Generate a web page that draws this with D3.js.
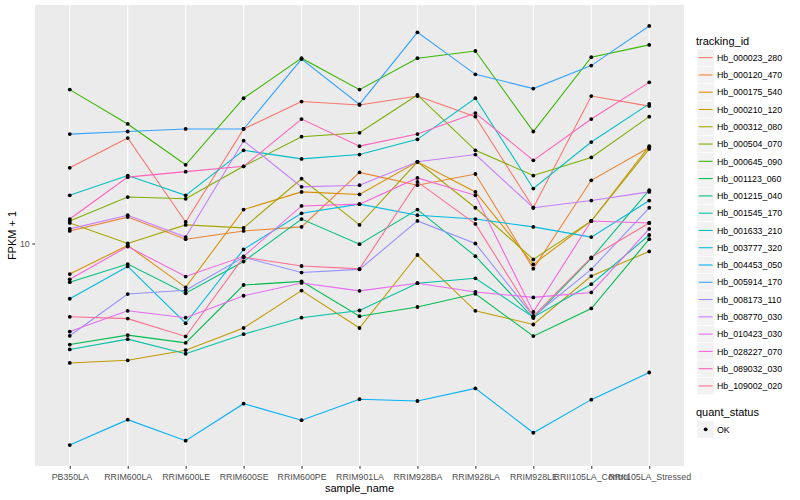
<!DOCTYPE html>
<html>
<head>
<meta charset="utf-8">
<script src="https://cdn.jsdelivr.net/npm/d3@7"></script>
<style>
  body { margin: 0; background: #fff; }
  text { font-family: "Liberation Sans", Arial, sans-serif; }
</style>
</head>
<body>
<div id="chart"></div>
<script>
// sample names along the x axis
const sampleNames = ["PB350LA", "RRIM600LA", "RRIM600LE", "RRIM600SE", "RRIM600PE", "RRIM901LA",
    "RRIM928BA", "RRIM928LA", "RRIM928LE", "RRII105LA_Control", "RRII105LA_Stressed"];

const trackingIds = ["Hb_000023_280", "Hb_000120_470", "Hb_000175_540", "Hb_000210_120", "Hb_000312_080",
    "Hb_000504_070", "Hb_000645_090", "Hb_001123_060", "Hb_001215_040", "Hb_001545_170",
    "Hb_001633_210", "Hb_003777_320", "Hb_004453_050", "Hb_005914_170", "Hb_008173_110",
    "Hb_008770_030", "Hb_010423_030", "Hb_028227_070", "Hb_089032_030", "Hb_109002_020"];

// FPKM + 1 for each gene, one value per sample
const hb_000023_280 = [14.2, 16.3, 11.05, 17.0, 19.3, 19.0, 19.8, 18.0, 11.8, 19.8, 18.9];
const hb_000120_470 = [10.6, 11.3, 10.2, 10.6, 10.8, 13.9, 13.1, 13.8, 8.9, 13.4, 15.6];
const hb_000175_540 = [8.68, 9.91, 8.16, 11.7, 12.7, 12.55, 14.6, 12.7, 9.08, 11.1, 15.7];
const hb_000210_120 = [5.75, 5.82, 6.10, 6.76, 8.04, 6.76, 9.48, 7.32, 6.87, 8.60, 9.64];
const hb_000312_080 = [11.0, 10.0, 10.9, 10.75, 13.5, 10.9, 14.6, 11.8, 9.29, 11.1, 15.5];
const hb_000504_070 = [11.1, 12.4, 12.3, 14.3, 16.4, 16.7, 19.9, 15.4, 13.7, 14.9, 18.0];
const hb_000645_090 = [20.4, 17.4, 14.4, 19.6, 23.6, 20.4, 23.6, 24.4, 16.8, 23.7, 25.1];
const hb_001123_060 = [6.26, 6.54, 6.31, 8.25, 8.39, 7.14, 7.45, 7.92, 6.51, 7.40, 10.2];
const hb_001215_040 = [8.36, 9.09, 7.94, 9.20, 11.2, 9.97, 11.7, 9.43, 7.08, 9.33, 12.8];
const hb_001545_170 = [6.12, 6.42, 6.00, 6.57, 7.09, 7.33, 8.32, 8.51, 7.11, 8.28, 10.4];
const hb_001633_210 = [12.5, 13.7, 12.5, 15.4, 14.8, 15.1, 16.2, 19.6, 12.9, 16.0, 19.1];
const hb_003777_320 = [7.74, 8.99, 6.91, 9.73, 11.5, 12.0, 11.4, 11.2, 10.8, 10.3, 12.2];
const hb_004453_050 = [3.93, 4.42, 4.01, 4.76, 4.41, 4.86, 4.82, 5.11, 4.16, 4.85, 5.50];
const hb_005914_170 = [16.6, 16.8, 17.0, 17.0, 23.5, 19.05, 26.6, 21.9, 20.5, 22.8, 27.4];
const hb_008173_110 = [6.52, 7.91, 8.05, 9.38, 8.74, 8.87, 11.1, 10.0, 7.14, 8.87, 11.8];
const hb_008770_030 = [10.7, 11.4, 10.3, 16.1, 13.0, 13.1, 14.6, 15.1, 11.8, 12.2, 12.7];
const hb_010423_030 = [6.65, 7.32, 7.09, 7.85, 8.33, 8.03, 8.32, 7.99, 7.79, 7.97, 10.7];
const hb_028227_070 = [8.47, 9.86, 8.58, 9.42, 11.9, 12.0, 13.55, 12.5, 7.28, 11.1, 11.0];
const hb_089032_030 = [11.2, 13.6, 13.95, 14.3, 17.8, 15.7, 16.6, 18.3, 14.7, 17.8, 21.1];
const hb_109002_020 = [7.12, 7.06, 6.50, 9.39, 9.01, 8.89, 13.3, 10.95, 7.14, 9.38, 11.0];

const quantStatus = ["OK"];
const yTicks = [10];

const seriesValues = [hb_000023_280, hb_000120_470, hb_000175_540, hb_000210_120, hb_000312_080,
    hb_000504_070, hb_000645_090, hb_001123_060, hb_001215_040, hb_001545_170,
    hb_001633_210, hb_003777_320, hb_004453_050, hb_005914_170, hb_008173_110,
    hb_008770_030, hb_010423_030, hb_028227_070, hb_089032_030, hb_109002_020];

// ggplot default hue palette for 20 groups
const palette = ["#F8766D", "#EA8331", "#D89000", "#C09B00", "#A3A500", "#7CAE00", "#39B600", "#00BB4E",
    "#00BF7D", "#00C1A3", "#00BFC4", "#00BAE0", "#00B0F6", "#35A2FF", "#9590FF", "#C77CFF",
    "#E76BF3", "#FA62DB", "#FF62BC", "#FF6C91"];

const width = 800;
const height = 500;
const panel = { left: 35, right: 684, top: 5, bottom: 466 };

const svg = d3.select("#chart")
    .append("svg")
    .attr("width", width)
    .attr("height", height);

svg.append("rect")
    .attr("width", width)
    .attr("height", height)
    .attr("fill", "#fff");

const xScale = d3.scalePoint()
    .domain(sampleNames)
    .range([panel.left, panel.right])
    .padding(0.6);

// log scale with 5% expansion like ggplot
const allValues = seriesValues.flat();
const lo = Math.log10(d3.min(allValues));
const hi = Math.log10(d3.max(allValues));
const pad = (hi - lo) * 0.05;
const yScale = d3.scaleLog()
    .domain([Math.pow(10, lo - pad), Math.pow(10, hi + pad)])
    .range([panel.bottom, panel.top]);

svg.append("rect")
    .attr("x", panel.left)
    .attr("y", panel.top)
    .attr("width", panel.right - panel.left)
    .attr("height", panel.bottom - panel.top)
    .attr("fill", "#EBEBEB");

// vertical grid lines at each sample
svg.append("g")
    .selectAll("line")
    .data(sampleNames)
    .join("line")
    .attr("x1", d => xScale(d))
    .attr("x2", d => xScale(d))
    .attr("y1", panel.top)
    .attr("y2", panel.bottom)
    .attr("stroke", "#fff")
    .attr("stroke-width", 1.07);

const line = d3.line()
    .x((d, i) => xScale(sampleNames[i]))
    .y(d => yScale(d));

svg.append("g")
    .selectAll("path")
    .data(seriesValues)
    .join("path")
    .attr("fill", "none")
    .attr("stroke", (d, i) => palette[i])
    .attr("stroke-width", 1.07)
    .attr("d", line);

// black points on top of every line
seriesValues.forEach(vals => {
    svg.append("g")
        .selectAll("circle")
        .data(vals)
        .join("circle")
        .attr("cx", (d, i) => xScale(sampleNames[i]))
        .attr("cy", d => yScale(d))
        .attr("r", 1.9)
        .attr("fill", "#000");
});

// axes
const xAxis = d3.axisBottom(xScale).tickSize(2.75).tickPadding(5.5);
const yAxis = d3.axisLeft(yScale).tickValues(yTicks).tickFormat(d3.format("d")).tickSize(2.75).tickPadding(2.5);

const gx = svg.append("g")
    .attr("transform", `translate(0,${panel.bottom})`)
    .call(xAxis);
const gy = svg.append("g")
    .attr("transform", `translate(${panel.left},0)`)
    .call(yAxis);

[gx, gy].forEach(g => {
    g.select(".domain").remove();
    g.selectAll(".tick line").attr("stroke", "#333333").attr("stroke-width", 1.07);
    g.selectAll(".tick text").attr("fill", "#4D4D4D").attr("font-size", "8.8px");
});

svg.append("text")
    .attr("x", (panel.left + panel.right) / 2)
    .attr("y", 492)
    .attr("text-anchor", "middle")
    .attr("font-size", "11px")
    .text("sample_name");

svg.append("text")
    .attr("transform", `translate(16,${(panel.top + panel.bottom) / 2}) rotate(-90)`)
    .attr("text-anchor", "middle")
    .attr("font-size", "11px")
    .text("FPKM + 1");

// legend for tracking_id
const legend = svg.append("g").attr("transform", "translate(697,0)");
const keySize = 17.28;

legend.append("text")
    .attr("x", -1)
    .attr("y", 44.5)
    .attr("font-size", "11px")
    .text("tracking_id");

const keys = legend.selectAll("g.key")
    .data(trackingIds)
    .join("g")
    .attr("class", "key")
    .attr("transform", (d, i) => `translate(0,${49 + i * keySize})`);

keys.append("rect")
    .attr("width", keySize)
    .attr("height", keySize)
    .attr("fill", "#F2F2F2")
    .attr("stroke", "#fff")
    .attr("stroke-width", 0.5);

keys.append("line")
    .attr("x1", 1.7)
    .attr("x2", keySize - 1.7)
    .attr("y1", keySize / 2)
    .attr("y2", keySize / 2)
    .attr("stroke", (d, i) => palette[i])
    .attr("stroke-width", 1.07);

keys.append("text")
    .attr("x", 20)
    .attr("y", keySize / 2 + 3.2)
    .attr("font-size", "8.8px")
    .text(d => d);

// legend for quant_status
legend.append("text")
    .attr("x", -1)
    .attr("y", 415.5)
    .attr("font-size", "11px")
    .text("quant_status");

const qKeys = legend.selectAll("g.qkey")
    .data(quantStatus)
    .join("g")
    .attr("class", "qkey")
    .attr("transform", (d, i) => `translate(0,${420.7 + i * keySize})`);

qKeys.append("rect")
    .attr("width", keySize)
    .attr("height", keySize)
    .attr("fill", "#F2F2F2")
    .attr("stroke", "#fff")
    .attr("stroke-width", 0.5);

qKeys.append("circle")
    .attr("cx", keySize / 2)
    .attr("cy", keySize / 2)
    .attr("r", 1.9)
    .attr("fill", "#000");

qKeys.append("text")
    .attr("x", 20)
    .attr("y", keySize / 2 + 3.2)
    .attr("font-size", "8.8px")
    .text(d => d);
</script>
</body>
</html>
